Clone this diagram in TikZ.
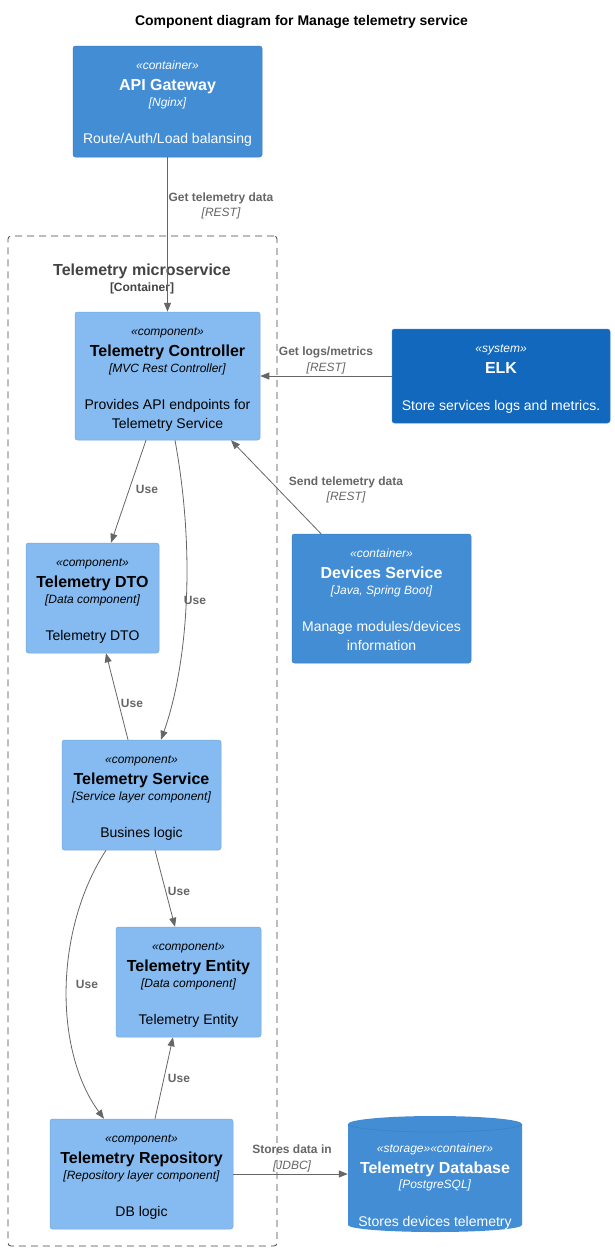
\documentclass[tikz,border=0pt]{standalone}
\usepackage{fontspec}
\setmainfont{Liberation Sans}
\usetikzlibrary{arrows.meta}
\definecolor{contfill}{HTML}{438DD5}
\definecolor{contline}{HTML}{3C7FC0}
\definecolor{compfill}{HTML}{85BBF0}
\definecolor{compline}{HTML}{78A8D8}
\definecolor{sysfill}{HTML}{1168BD}
\definecolor{sysline}{HTML}{3C7FC0}
\definecolor{relgray}{HTML}{666666}
\definecolor{bndgray}{HTML}{444444}
\newcommand\fsz[1]{\fontsize{#1}{#1}\selectfont}
\tikzset{
  box/.style={rounded corners=2.5pt, inner sep=0pt, line width=0.5pt},
  containerbox/.style={box, fill=contfill, draw=contline},
  compbox/.style={box, fill=compfill, draw=compline},
  sysbox/.style={box, fill=sysfill, draw=sysline},
  stereotxt/.style={anchor=base, font=\fsz{12}\itshape, inner sep=0pt},
  nametxt/.style={anchor=base, font=\fsz{16}\bfseries, inner sep=0pt},
  techtxt/.style={anchor=base, font=\fsz{12}\itshape, inner sep=0pt},
  desctxt/.style={anchor=base, font=\fsz{14}, inner sep=0pt},
  rel/.style={draw=relgray, line width=0.8pt, -{Triangle[length=9pt,width=7pt,fill=relgray]}},
  rellabel/.style={anchor=base, font=\fsz{12}\bfseries, text=relgray, inner sep=0pt},
  reltech/.style={anchor=base, font=\fsz{12}\itshape, text=relgray, inner sep=0pt},
}
% box: style, name, left, top, right, bottom
\newcommand\cbox[6]{%
  \node[#1, minimum width={(#5-#3)*1pt}, minimum height={(#6-#4)*1pt}] (#2) at ({(#3+#5)/2},{(#4+#6)/2}) {};}
% texts: name, colour, stereo, title, tech, desc1, desc2
\newcommand\ctext[7]{%
  \node[stereotxt, text=#2] (#1s) at ([yshift=-24pt]#1.north) {«#3»};
  \node[nametxt, text=#2] (#1n) at ([yshift=-45pt]#1.north) {#4};
  \node[techtxt, text=#2] (#1t) at ([yshift=-61pt]#1.north) {[#5]};
  \node[desctxt, text=#2] (#1d) at ([yshift=-98pt]#1.north) {#6};
  \node[desctxt, text=#2] (#1e) at ([yshift=-117pt]#1.north) {#7};}
\begin{document}
\begin{tikzpicture}[x=1pt,y=-1pt]
\useasboundingbox (0,0) rectangle (615,1251);
\fill[white] (0,0) rectangle (615,1251);

% title
\node[anchor=base, font=\fsz{14}\bfseries, inner sep=0pt] (title) at (301.5,25) {Component diagram for Manage telemetry service};

% boundary
\node[draw=bndgray, dash pattern=on 7pt off 5pt, rounded corners=3pt, line width=0.8pt, inner sep=0pt,
      minimum width=269pt, minimum height=1010pt] (bnd) at (142.5,741) {};
\node[anchor=base, font=\fsz{16}\bfseries, text=bndgray, inner sep=0pt] (bndn) at (142,275) {Telemetry microservice};
\node[anchor=base, font=\fsz{12}\bfseries, text=bndgray, inner sep=0pt] (bndt) at (142,291) {[Container]};

% boxes
\cbox{containerbox}{gw}{73}{46}{262}{157}
\ctext{gw}{white}{container}{API Gateway}{Nginx}{Route/Auth/Load balansing}{}

\cbox{compbox}{ctrl}{75}{312}{260}{440}
\ctext{ctrl}{black}{component}{Telemetry Controller}{MVC Rest Controller}{Provides API endpoints for}{Telemetry Service}

\cbox{sysbox}{elk}{392}{329}{610}{423}
\node[stereotxt, text=white] (elks) at ([yshift=-24pt]elk.north) {«system»};
\node[nametxt, text=white] (elkn) at ([yshift=-45pt]elk.north) {ELK};
\node[desctxt, text=white] (elkd) at ([yshift=-82pt]elk.north) {Store services logs and metrics.};

\cbox{compbox}{dto}{26}{543}{159}{653}
\ctext{dto}{black}{component}{Telemetry DTO}{Data component}{Telemetry DTO}{}

\cbox{containerbox}{devs}{292}{534}{471}{663}
\ctext{devs}{white}{container}{Devices Service}{Java, Spring Boot}{Manage modules/devices}{information}

\cbox{compbox}{svc}{62}{740}{221}{850}
\ctext{svc}{black}{component}{Telemetry Service}{Service layer component}{Busines logic}{}

\cbox{compbox}{ent}{116}{927}{261}{1037}
\ctext{ent}{black}{component}{Telemetry Entity}{Data component}{Telemetry Entity}{}

\cbox{compbox}{repo}{50}{1119}{233}{1229}
\ctext{repo}{black}{component}{Telemetry Repository}{Repository layer component}{DB logic}{}

% database cylinder
\fill[contfill] (348,1124) -- (348,1225) arc[start angle=180,end angle=360,x radius=87pt,y radius=7pt]
   -- (522,1124) arc[start angle=0,end angle=180,x radius=87pt,y radius=8pt] -- cycle;
\draw[contline, line width=0.5pt] (348,1124) arc[start angle=180,end angle=360,x radius=87pt,y radius=8pt];
\node[inner sep=0pt, minimum width=174pt, minimum height=116pt] (db) at (435,1174) {};
\node[stereotxt, text=white] (dbs) at (435,1152) {«storage»«container»};
\node[nametxt, text=white] (dbn) at (435,1173) {Telemetry Database};
\node[techtxt, text=white] (dbt) at (435,1188) {[PostgreSQL]};
\node[desctxt, text=white] (dbd) at (435,1226) {Stores devices telemetry};

% relations
\draw[rel] (gw.south) -- (ctrl.north);
\node[rellabel] (l1) at (221,201) {Get telemetry data};
\node[reltech] (l1t) at (221,216) {[REST]};

\draw[rel] (elk.west) -- (ctrl.east);
\node[rellabel] (l2) at (326,355) {Get logs/metrics};
\node[reltech] (l2t) at (326,371) {[REST]};

\draw[rel] ([xshift=-60.5pt]devs.north) -- ([xshift=63.5pt]ctrl.south);
\node[rellabel] (l3) at (346,485) {Send telemetry data};
\node[reltech] (l3t) at (346,500) {[REST]};

\draw[rel] ([xshift=-21.5pt]ctrl.south) -- ([xshift=18.5pt]dto.north);
\node[rellabel] (u1) at (147,493) {Use};

\draw[rel] ([xshift=7.5pt]ctrl.south) .. controls +(22,120) and +(25,-70) .. ([xshift=19.5pt]svc.north);
\node[rellabel] (u2) at (195,604) {Use};

\draw[rel] ([xshift=-13.5pt]svc.north) -- ([xshift=13.5pt]dto.south);
\node[rellabel] (u3) at (132,707) {Use};

\draw[rel] ([xshift=13.5pt]svc.south) -- ([xshift=-13.5pt]ent.north);
\node[rellabel] (u4) at (179,895) {Use};

\draw[rel] ([xshift=-35.5pt]svc.south) .. controls +(-52,80) and +(-50,-68) .. ([xshift=-37.5pt]repo.north);
\node[rellabel] (u5) at (87,988) {Use};

\draw[rel] ([xshift=13.5pt]repo.north) -- ([xshift=-15.5pt]ent.south);
\node[rellabel] (u6) at (179,1082) {Use};

\draw[rel] (repo.east) -- (db.west);
\node[rellabel] (l4) at (292,1153) {Stores data in};
\node[reltech] (l4t) at (292,1169) {[JDBC]};
\end{tikzpicture}
\end{document}
